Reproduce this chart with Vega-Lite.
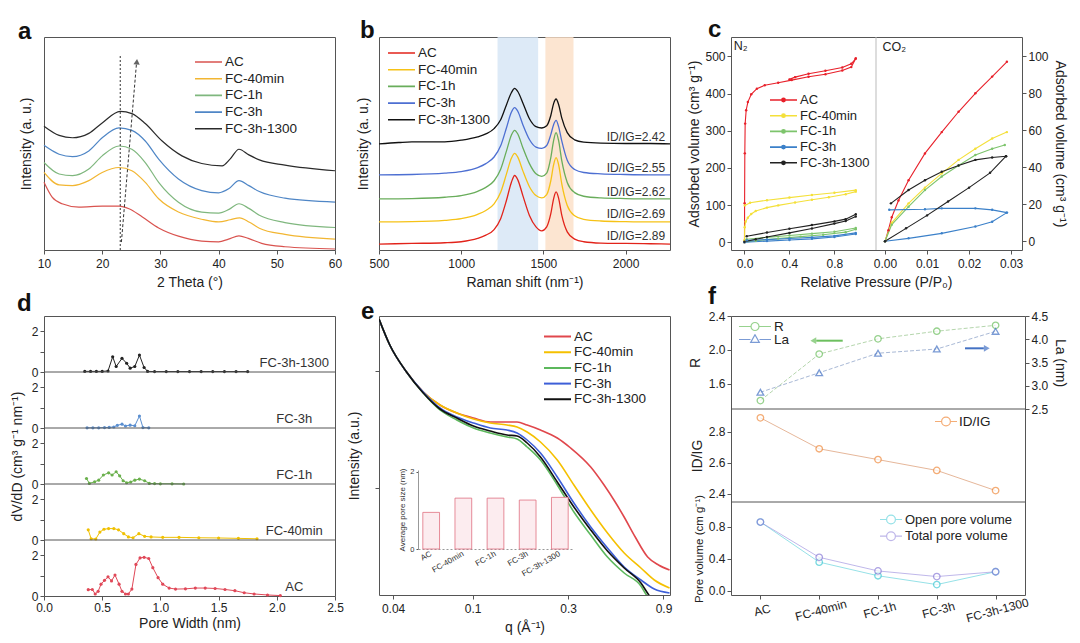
{
  "$schema": "https://vega.github.io/schema/vega-lite/v6.json",
  "padding": {"left": 9, "top": 17, "right": 0, "bottom": 0},
  "background": "white",
  "config": {
    "font": "Liberation Sans",
    "view": {"stroke": "#555", "strokeWidth": 1},
    "axis": {"grid": false, "domain": false, "tickColor": "#555", "tickSize": 4, "labelFontSize": 12, "labelColor": "#222", "labelFlush": false, "labelOverlap": false, "labelPadding": 2, "titleFontSize": 14, "titleFontWeight": "normal", "titleColor": "#222", "titlePadding": 4},
    "axisX": {"labelPadding": 4, "titlePadding": 6},
    "legend": {"labelFontSize": 13.5, "labelColor": "#222", "padding": 0, "rowPadding": 2.7, "clipHeight": 12, "labelOffset": 2, "symbolStrokeWidth": 1.6, "orient": "none"},
    "title": {"fontSize": 24, "fontWeight": "bold", "anchor": "start", "frame": "group", "offset": 2, "color": "#111"}
  },
  "datasets": {
    "xrd": [
      {"s":"AC","t":10,"v":68.3},{"s":"AC","t":11.4,"v":53.3},{"s":"AC","t":13.1,"v":46.7},{"s":"AC","t":16,"v":43.3},{"s":"AC","t":20,"v":44.3},{"s":"AC","t":22.9,"v":44.3},{"s":"AC","t":24.6,"v":41.7},{"s":"AC","t":26.9,"v":33.3},{"s":"AC","t":29.7,"v":22.3},{"s":"AC","t":33.1,"v":14},{"s":"AC","t":37.1,"v":9},{"s":"AC","t":40,"v":8.3},{"s":"AC","t":41.7,"v":11},{"s":"AC","t":43.5,"v":14.3},{"s":"AC","t":45.1,"v":11.7},{"s":"AC","t":47.4,"v":6.7},{"s":"AC","t":51.4,"v":3.3},{"s":"AC","t":60,"v":1},
      {"s":"FC-40min","t":10,"v":78.3},{"s":"FC-40min","t":12.6,"v":65.7},{"s":"FC-40min","t":14.9,"v":65},{"s":"FC-40min","t":17.7,"v":70},{"s":"FC-40min","t":20,"v":78.3},{"s":"FC-40min","t":22.9,"v":83.3},{"s":"FC-40min","t":25.1,"v":80},{"s":"FC-40min","t":27.4,"v":68.3},{"s":"FC-40min","t":29.7,"v":51.7},{"s":"FC-40min","t":33.1,"v":38.3},{"s":"FC-40min","t":37.1,"v":31},{"s":"FC-40min","t":40,"v":28.3},{"s":"FC-40min","t":42,"v":30.5},{"s":"FC-40min","t":43.6,"v":32.5},{"s":"FC-40min","t":45.3,"v":28},{"s":"FC-40min","t":47,"v":22},{"s":"FC-40min","t":51.4,"v":15.7},{"s":"FC-40min","t":60,"v":11},
      {"s":"FC-1h","t":10,"v":88.3},{"s":"FC-1h","t":12.6,"v":76.7},{"s":"FC-1h","t":14.9,"v":75},{"s":"FC-1h","t":17.7,"v":81.7},{"s":"FC-1h","t":20,"v":95},{"s":"FC-1h","t":22.9,"v":105},{"s":"FC-1h","t":25.1,"v":101.7},{"s":"FC-1h","t":27.4,"v":88.3},{"s":"FC-1h","t":29.7,"v":68.3},{"s":"FC-1h","t":33.1,"v":48.3},{"s":"FC-1h","t":37.1,"v":38.3},{"s":"FC-1h","t":40,"v":37.3},{"s":"FC-1h","t":41.8,"v":41},{"s":"FC-1h","t":43.5,"v":46.7},{"s":"FC-1h","t":45.2,"v":42},{"s":"FC-1h","t":47,"v":35},{"s":"FC-1h","t":51.4,"v":27.7},{"s":"FC-1h","t":60,"v":22.7},
      {"s":"FC-3h","t":10,"v":105.7},{"s":"FC-3h","t":12.6,"v":96.7},{"s":"FC-3h","t":14.9,"v":94.3},{"s":"FC-3h","t":17.7,"v":100},{"s":"FC-3h","t":20,"v":113.3},{"s":"FC-3h","t":22.9,"v":123.3},{"s":"FC-3h","t":25.1,"v":120.7},{"s":"FC-3h","t":27.4,"v":110},{"s":"FC-3h","t":29.7,"v":91.7},{"s":"FC-3h","t":33.1,"v":71.7},{"s":"FC-3h","t":37.1,"v":60},{"s":"FC-3h","t":40,"v":57.7},{"s":"FC-3h","t":41.8,"v":62},{"s":"FC-3h","t":43.5,"v":70},{"s":"FC-3h","t":45.2,"v":65},{"s":"FC-3h","t":47,"v":59},{"s":"FC-3h","t":51.4,"v":52.3},{"s":"FC-3h","t":60,"v":48.3},
      {"s":"FC-3h-1300","t":10,"v":125},{"s":"FC-3h-1300","t":12.6,"v":115.7},{"s":"FC-3h-1300","t":14.9,"v":113.3},{"s":"FC-3h-1300","t":17.7,"v":117.7},{"s":"FC-3h-1300","t":20,"v":128.3},{"s":"FC-3h-1300","t":23.1,"v":140},{"s":"FC-3h-1300","t":25.1,"v":137.7},{"s":"FC-3h-1300","t":27.4,"v":127.7},{"s":"FC-3h-1300","t":30.3,"v":110},{"s":"FC-3h-1300","t":33.7,"v":95},{"s":"FC-3h-1300","t":37.1,"v":87.3},{"s":"FC-3h-1300","t":40.6,"v":85},{"s":"FC-3h-1300","t":42,"v":92},{"s":"FC-3h-1300","t":43.5,"v":101.7},{"s":"FC-3h-1300","t":45.2,"v":96},{"s":"FC-3h-1300","t":47,"v":91},{"s":"FC-3h-1300","t":51.4,"v":85.7},{"s":"FC-3h-1300","t":60,"v":80}
    ],
    "raman": [
      {"s":"AC","x":500,"y":18},{"s":"AC","x":700,"y":20},{"s":"AC","x":900,"y":22},{"s":"AC","x":1000,"y":25},{"s":"AC","x":1100,"y":35},{"s":"AC","x":1150,"y":45},{"s":"AC","x":1200,"y":62},{"s":"AC","x":1240,"y":95},{"s":"AC","x":1275,"y":150},{"s":"AC","x":1305,"y":205},{"s":"AC","x":1325,"y":226},{"s":"AC","x":1345,"y":212},{"s":"AC","x":1375,"y":165},{"s":"AC","x":1415,"y":105},{"s":"AC","x":1455,"y":70},{"s":"AC","x":1490,"y":58},{"s":"AC","x":1520,"y":70},{"s":"AC","x":1545,"y":110},{"s":"AC","x":1562,"y":155},{"s":"AC","x":1577,"y":176},{"s":"AC","x":1592,"y":158},{"s":"AC","x":1612,"y":105},{"s":"AC","x":1645,"y":55},{"s":"AC","x":1690,"y":33},{"s":"AC","x":1745,"y":25},{"s":"AC","x":1850,"y":21},{"s":"AC","x":2000,"y":20},{"s":"AC","x":2150,"y":19},{"s":"AC","x":2270,"y":18},
      {"s":"FC-40min","x":500,"y":85},{"s":"FC-40min","x":700,"y":86},{"s":"FC-40min","x":900,"y":90},{"s":"FC-40min","x":1000,"y":95},{"s":"FC-40min","x":1100,"y":108},{"s":"FC-40min","x":1150,"y":120},{"s":"FC-40min","x":1200,"y":140},{"s":"FC-40min","x":1240,"y":175},{"s":"FC-40min","x":1275,"y":230},{"s":"FC-40min","x":1305,"y":278},{"s":"FC-40min","x":1325,"y":293},{"s":"FC-40min","x":1345,"y":281},{"s":"FC-40min","x":1375,"y":240},{"s":"FC-40min","x":1415,"y":192},{"s":"FC-40min","x":1455,"y":165},{"s":"FC-40min","x":1490,"y":158},{"s":"FC-40min","x":1520,"y":168},{"s":"FC-40min","x":1545,"y":210},{"s":"FC-40min","x":1562,"y":258},{"s":"FC-40min","x":1577,"y":280},{"s":"FC-40min","x":1592,"y":260},{"s":"FC-40min","x":1612,"y":200},{"s":"FC-40min","x":1645,"y":135},{"s":"FC-40min","x":1690,"y":104},{"s":"FC-40min","x":1745,"y":93},{"s":"FC-40min","x":1850,"y":88},{"s":"FC-40min","x":2000,"y":86},{"s":"FC-40min","x":2150,"y":85},{"s":"FC-40min","x":2270,"y":85},
      {"s":"FC-1h","x":500,"y":155},{"s":"FC-1h","x":700,"y":156},{"s":"FC-1h","x":900,"y":160},{"s":"FC-1h","x":1000,"y":165},{"s":"FC-1h","x":1100,"y":178},{"s":"FC-1h","x":1150,"y":190},{"s":"FC-1h","x":1200,"y":210},{"s":"FC-1h","x":1240,"y":245},{"s":"FC-1h","x":1275,"y":300},{"s":"FC-1h","x":1305,"y":348},{"s":"FC-1h","x":1325,"y":363},{"s":"FC-1h","x":1345,"y":351},{"s":"FC-1h","x":1375,"y":310},{"s":"FC-1h","x":1415,"y":262},{"s":"FC-1h","x":1455,"y":231},{"s":"FC-1h","x":1490,"y":223},{"s":"FC-1h","x":1520,"y":233},{"s":"FC-1h","x":1545,"y":280},{"s":"FC-1h","x":1562,"y":332},{"s":"FC-1h","x":1577,"y":356},{"s":"FC-1h","x":1592,"y":333},{"s":"FC-1h","x":1612,"y":270},{"s":"FC-1h","x":1645,"y":205},{"s":"FC-1h","x":1690,"y":174},{"s":"FC-1h","x":1745,"y":163},{"s":"FC-1h","x":1850,"y":158},{"s":"FC-1h","x":2000,"y":156},{"s":"FC-1h","x":2150,"y":155},{"s":"FC-1h","x":2270,"y":155},
      {"s":"FC-3h","x":500,"y":228},{"s":"FC-3h","x":700,"y":229},{"s":"FC-3h","x":900,"y":233},{"s":"FC-3h","x":1000,"y":238},{"s":"FC-3h","x":1100,"y":250},{"s":"FC-3h","x":1150,"y":262},{"s":"FC-3h","x":1200,"y":282},{"s":"FC-3h","x":1240,"y":316},{"s":"FC-3h","x":1275,"y":370},{"s":"FC-3h","x":1305,"y":418},{"s":"FC-3h","x":1325,"y":432},{"s":"FC-3h","x":1345,"y":420},{"s":"FC-3h","x":1375,"y":380},{"s":"FC-3h","x":1415,"y":335},{"s":"FC-3h","x":1455,"y":312},{"s":"FC-3h","x":1490,"y":308},{"s":"FC-3h","x":1520,"y":317},{"s":"FC-3h","x":1545,"y":350},{"s":"FC-3h","x":1562,"y":380},{"s":"FC-3h","x":1577,"y":393},{"s":"FC-3h","x":1592,"y":375},{"s":"FC-3h","x":1612,"y":330},{"s":"FC-3h","x":1645,"y":272},{"s":"FC-3h","x":1690,"y":244},{"s":"FC-3h","x":1745,"y":235},{"s":"FC-3h","x":1850,"y":231},{"s":"FC-3h","x":2000,"y":229},{"s":"FC-3h","x":2150,"y":228},{"s":"FC-3h","x":2270,"y":228},
      {"s":"FC-3h-1300","x":500,"y":322},{"s":"FC-3h-1300","x":620,"y":326},{"s":"FC-3h-1300","x":700,"y":328},{"s":"FC-3h-1300","x":900,"y":328},{"s":"FC-3h-1300","x":1000,"y":333},{"s":"FC-3h-1300","x":1100,"y":343},{"s":"FC-3h-1300","x":1150,"y":352},{"s":"FC-3h-1300","x":1200,"y":368},{"s":"FC-3h-1300","x":1240,"y":395},{"s":"FC-3h-1300","x":1275,"y":440},{"s":"FC-3h-1300","x":1305,"y":477},{"s":"FC-3h-1300","x":1325,"y":490},{"s":"FC-3h-1300","x":1345,"y":480},{"s":"FC-3h-1300","x":1375,"y":446},{"s":"FC-3h-1300","x":1415,"y":398},{"s":"FC-3h-1300","x":1455,"y":374},{"s":"FC-3h-1300","x":1490,"y":370},{"s":"FC-3h-1300","x":1520,"y":377},{"s":"FC-3h-1300","x":1545,"y":408},{"s":"FC-3h-1300","x":1562,"y":444},{"s":"FC-3h-1300","x":1577,"y":458},{"s":"FC-3h-1300","x":1592,"y":442},{"s":"FC-3h-1300","x":1612,"y":400},{"s":"FC-3h-1300","x":1645,"y":356},{"s":"FC-3h-1300","x":1690,"y":334},{"s":"FC-3h-1300","x":1745,"y":327},{"s":"FC-3h-1300","x":1850,"y":324},{"s":"FC-3h-1300","x":2000,"y":323},{"s":"FC-3h-1300","x":2150,"y":323},{"s":"FC-3h-1300","x":2270,"y":322}
    ],
    "n2": [
      {"s":"AC","b":"a","x":0,"y":0},{"s":"AC","b":"a","x":0.001,"y":105},{"s":"AC","b":"a","x":0.003,"y":239},{"s":"AC","b":"a","x":0.006,"y":319},{"s":"AC","b":"a","x":0.015,"y":355},{"s":"AC","b":"a","x":0.03,"y":377},{"s":"AC","b":"a","x":0.06,"y":398},{"s":"AC","b":"a","x":0.11,"y":413},{"s":"AC","b":"a","x":0.18,"y":422},{"s":"AC","b":"a","x":0.3,"y":429},{"s":"AC","b":"a","x":0.42,"y":436},{"s":"AC","b":"a","x":0.57,"y":445},{"s":"AC","b":"a","x":0.72,"y":452},{"s":"AC","b":"a","x":0.87,"y":462},{"s":"AC","b":"a","x":0.95,"y":471},{"s":"AC","b":"a","x":0.99,"y":494},
      {"s":"AC","b":"d","x":0.99,"y":494},{"s":"AC","b":"d","x":0.95,"y":480},{"s":"AC","b":"d","x":0.87,"y":470},{"s":"AC","b":"d","x":0.72,"y":461},{"s":"AC","b":"d","x":0.57,"y":453},{"s":"AC","b":"d","x":0.45,"y":444},{"s":"AC","b":"d","x":0.4,"y":438},
      {"s":"FC-40min","b":"a","x":0,"y":5},{"s":"FC-40min","b":"a","x":0.002,"y":40},{"s":"FC-40min","b":"a","x":0.01,"y":55},{"s":"FC-40min","b":"a","x":0.03,"y":66},{"s":"FC-40min","b":"a","x":0.06,"y":76},{"s":"FC-40min","b":"a","x":0.1,"y":84},{"s":"FC-40min","b":"a","x":0.2,"y":93},{"s":"FC-40min","b":"a","x":0.3,"y":99},{"s":"FC-40min","b":"a","x":0.45,"y":107},{"s":"FC-40min","b":"a","x":0.6,"y":114},{"s":"FC-40min","b":"a","x":0.75,"y":121},{"s":"FC-40min","b":"a","x":0.9,"y":129},{"s":"FC-40min","b":"a","x":0.99,"y":136},
      {"s":"FC-40min","b":"d","x":0.99,"y":140},{"s":"FC-40min","b":"d","x":0.8,"y":133},{"s":"FC-40min","b":"d","x":0.6,"y":127},{"s":"FC-40min","b":"d","x":0.4,"y":120},{"s":"FC-40min","b":"d","x":0.2,"y":113},{"s":"FC-40min","b":"d","x":0.05,"y":106},{"s":"FC-40min","b":"d","x":0.003,"y":99},
      {"s":"FC-1h","b":"a","x":0,"y":0},{"s":"FC-1h","b":"a","x":0.1,"y":4},{"s":"FC-1h","b":"a","x":0.3,"y":10},{"s":"FC-1h","b":"a","x":0.5,"y":15},{"s":"FC-1h","b":"a","x":0.7,"y":20},{"s":"FC-1h","b":"a","x":0.9,"y":27},{"s":"FC-1h","b":"a","x":0.99,"y":35},
      {"s":"FC-1h","b":"d","x":0.99,"y":38},{"s":"FC-1h","b":"d","x":0.8,"y":28},{"s":"FC-1h","b":"d","x":0.6,"y":23},{"s":"FC-1h","b":"d","x":0.4,"y":18},{"s":"FC-1h","b":"d","x":0.2,"y":13},{"s":"FC-1h","b":"d","x":0.02,"y":8},
      {"s":"FC-3h","b":"a","x":0,"y":0},{"s":"FC-3h","b":"a","x":0.2,"y":3},{"s":"FC-3h","b":"a","x":0.4,"y":6},{"s":"FC-3h","b":"a","x":0.6,"y":9},{"s":"FC-3h","b":"a","x":0.8,"y":14},{"s":"FC-3h","b":"a","x":0.99,"y":22},
      {"s":"FC-3h","b":"d","x":0.99,"y":25},{"s":"FC-3h","b":"d","x":0.8,"y":17},{"s":"FC-3h","b":"d","x":0.6,"y":13},{"s":"FC-3h","b":"d","x":0.4,"y":10},{"s":"FC-3h","b":"d","x":0.2,"y":7},{"s":"FC-3h","b":"d","x":0.02,"y":5},
      {"s":"FC-3h-1300","b":"a","x":0,"y":1},{"s":"FC-3h-1300","b":"a","x":0.1,"y":8},{"s":"FC-3h-1300","b":"a","x":0.2,"y":14},{"s":"FC-3h-1300","b":"a","x":0.4,"y":25},{"s":"FC-3h-1300","b":"a","x":0.6,"y":37},{"s":"FC-3h-1300","b":"a","x":0.8,"y":50},{"s":"FC-3h-1300","b":"a","x":0.9,"y":57},{"s":"FC-3h-1300","b":"a","x":0.99,"y":69},
      {"s":"FC-3h-1300","b":"d","x":0.99,"y":75},{"s":"FC-3h-1300","b":"d","x":0.9,"y":62},{"s":"FC-3h-1300","b":"d","x":0.8,"y":56},{"s":"FC-3h-1300","b":"d","x":0.6,"y":46},{"s":"FC-3h-1300","b":"d","x":0.4,"y":36},{"s":"FC-3h-1300","b":"d","x":0.2,"y":26},{"s":"FC-3h-1300","b":"d","x":0.02,"y":16}
    ],
    "co2": [
      {"s":"AC","b":"a","x":0,"y":0},{"s":"AC","b":"a","x":0.0008,"y":6},{"s":"AC","b":"a","x":0.0016,"y":13},{"s":"AC","b":"a","x":0.0032,"y":22},{"s":"AC","b":"a","x":0.0056,"y":33},{"s":"AC","b":"a","x":0.0095,"y":47.5},{"s":"AC","b":"a","x":0.0135,"y":59},{"s":"AC","b":"a","x":0.0175,"y":70},{"s":"AC","b":"a","x":0.0215,"y":80},{"s":"AC","b":"a","x":0.0255,"y":89},{"s":"AC","b":"a","x":0.029,"y":97},
      {"s":"FC-40min","b":"a","x":0,"y":0},{"s":"FC-40min","b":"a","x":0.0016,"y":10},{"s":"FC-40min","b":"a","x":0.0056,"y":20.5},{"s":"FC-40min","b":"a","x":0.0095,"y":29},{"s":"FC-40min","b":"a","x":0.0135,"y":36.7},{"s":"FC-40min","b":"a","x":0.0175,"y":44},{"s":"FC-40min","b":"a","x":0.0215,"y":50},{"s":"FC-40min","b":"a","x":0.0255,"y":55.6},{"s":"FC-40min","b":"a","x":0.029,"y":59},
      {"s":"FC-1h","b":"a","x":0,"y":0},{"s":"FC-1h","b":"a","x":0.0016,"y":9},{"s":"FC-1h","b":"a","x":0.0056,"y":18.7},{"s":"FC-1h","b":"a","x":0.0095,"y":27.7},{"s":"FC-1h","b":"a","x":0.0135,"y":35},{"s":"FC-1h","b":"a","x":0.0175,"y":41},{"s":"FC-1h","b":"a","x":0.0215,"y":46.6},{"s":"FC-1h","b":"a","x":0.0255,"y":50},{"s":"FC-1h","b":"a","x":0.0285,"y":52},
      {"s":"FC-3h","b":"a","x":0,"y":0},{"s":"FC-3h","b":"a","x":0.0056,"y":1.6},{"s":"FC-3h","b":"a","x":0.0135,"y":4.3},{"s":"FC-3h","b":"a","x":0.0215,"y":8},{"s":"FC-3h","b":"a","x":0.0255,"y":10.6},{"s":"FC-3h","b":"a","x":0.029,"y":15.5},
      {"s":"FC-3h","b":"d","x":0.001,"y":17},{"s":"FC-3h","b":"d","x":0.0095,"y":17.3},{"s":"FC-3h","b":"d","x":0.0135,"y":17.8},{"s":"FC-3h","b":"d","x":0.0215,"y":17.8},{"s":"FC-3h","b":"d","x":0.0255,"y":17},{"s":"FC-3h","b":"d","x":0.029,"y":15.5},
      {"s":"FC-3h-1300","b":"a","x":0,"y":0},{"s":"FC-3h-1300","b":"a","x":0.005,"y":7},{"s":"FC-3h-1300","b":"a","x":0.01,"y":14},{"s":"FC-3h-1300","b":"a","x":0.015,"y":21.5},{"s":"FC-3h-1300","b":"a","x":0.02,"y":29},{"s":"FC-3h-1300","b":"a","x":0.025,"y":37},{"s":"FC-3h-1300","b":"a","x":0.0288,"y":46},
      {"s":"FC-3h-1300","b":"d","x":0.0014,"y":20.5},{"s":"FC-3h-1300","b":"d","x":0.0056,"y":27.7},{"s":"FC-3h-1300","b":"d","x":0.0095,"y":33},{"s":"FC-3h-1300","b":"d","x":0.0135,"y":37.6},{"s":"FC-3h-1300","b":"d","x":0.0175,"y":41},{"s":"FC-3h-1300","b":"d","x":0.0215,"y":44},{"s":"FC-3h-1300","b":"d","x":0.0255,"y":45.3},{"s":"FC-3h-1300","b":"d","x":0.0288,"y":46}
    ],
    "psd": [
      {"s":"FC-3h-1300","w":0.35,"v":0.03},{"s":"FC-3h-1300","w":0.4,"v":0.03},{"s":"FC-3h-1300","w":0.45,"v":0.03},{"s":"FC-3h-1300","w":0.5,"v":0.03},{"s":"FC-3h-1300","w":0.55,"v":0.05},{"s":"FC-3h-1300","w":0.59,"v":0.75},{"s":"FC-3h-1300","w":0.62,"v":0.27},{"s":"FC-3h-1300","w":0.67,"v":0.67},{"s":"FC-3h-1300","w":0.71,"v":0.43},{"s":"FC-3h-1300","w":0.74,"v":0.19},{"s":"FC-3h-1300","w":0.78,"v":0.27},{"s":"FC-3h-1300","w":0.82,"v":0.83},{"s":"FC-3h-1300","w":0.86,"v":0.22},{"s":"FC-3h-1300","w":0.89,"v":0.03},{"s":"FC-3h-1300","w":0.95,"v":0.02},{"s":"FC-3h-1300","w":1.05,"v":0.02},{"s":"FC-3h-1300","w":1.15,"v":0.02},{"s":"FC-3h-1300","w":1.25,"v":0.02},{"s":"FC-3h-1300","w":1.35,"v":0.02},{"s":"FC-3h-1300","w":1.45,"v":0.02},{"s":"FC-3h-1300","w":1.55,"v":0.02},{"s":"FC-3h-1300","w":1.65,"v":0.02},{"s":"FC-3h-1300","w":1.75,"v":0.02},
      {"s":"FC-3h","w":0.37,"v":0.01},{"s":"FC-3h","w":0.42,"v":0.01},{"s":"FC-3h","w":0.47,"v":0.01},{"s":"FC-3h","w":0.52,"v":0.02},{"s":"FC-3h","w":0.56,"v":0.03},{"s":"FC-3h","w":0.6,"v":0.05},{"s":"FC-3h","w":0.63,"v":0.13},{"s":"FC-3h","w":0.67,"v":0.19},{"s":"FC-3h","w":0.7,"v":0.1},{"s":"FC-3h","w":0.74,"v":0.14},{"s":"FC-3h","w":0.78,"v":0.11},{"s":"FC-3h","w":0.82,"v":0.59},{"s":"FC-3h","w":0.85,"v":0.02},{"s":"FC-3h","w":0.9,"v":0.01},
      {"s":"FC-1h","w":0.365,"v":0.27},{"s":"FC-1h","w":0.39,"v":0.03},{"s":"FC-1h","w":0.435,"v":0.11},{"s":"FC-1h","w":0.47,"v":0.19},{"s":"FC-1h","w":0.51,"v":0.44},{"s":"FC-1h","w":0.555,"v":0.55},{"s":"FC-1h","w":0.585,"v":0.44},{"s":"FC-1h","w":0.62,"v":0.6},{"s":"FC-1h","w":0.65,"v":0.4},{"s":"FC-1h","w":0.68,"v":0.16},{"s":"FC-1h","w":0.71,"v":0.06},{"s":"FC-1h","w":0.745,"v":0.1},{"s":"FC-1h","w":0.78,"v":0.19},{"s":"FC-1h","w":0.82,"v":0.24},{"s":"FC-1h","w":0.865,"v":0.16},{"s":"FC-1h","w":0.905,"v":0.03},{"s":"FC-1h","w":0.95,"v":0.02},{"s":"FC-1h","w":1.0,"v":0.01},{"s":"FC-1h","w":1.1,"v":0.01},{"s":"FC-1h","w":1.2,"v":0.0},
      {"s":"FC-40min","w":0.38,"v":0.5},{"s":"FC-40min","w":0.405,"v":0.06},{"s":"FC-40min","w":0.445,"v":0.05},{"s":"FC-40min","w":0.48,"v":0.39},{"s":"FC-40min","w":0.515,"v":0.53},{"s":"FC-40min","w":0.555,"v":0.56},{"s":"FC-40min","w":0.6,"v":0.56},{"s":"FC-40min","w":0.64,"v":0.5},{"s":"FC-40min","w":0.685,"v":0.31},{"s":"FC-40min","w":0.725,"v":0.15},{"s":"FC-40min","w":0.765,"v":0.11},{"s":"FC-40min","w":0.815,"v":0.31},{"s":"FC-40min","w":0.865,"v":0.18},{"s":"FC-40min","w":0.92,"v":0.15},{"s":"FC-40min","w":1.02,"v":0.13},{"s":"FC-40min","w":1.16,"v":0.13},{"s":"FC-40min","w":1.33,"v":0.11},{"s":"FC-40min","w":1.5,"v":0.1},{"s":"FC-40min","w":1.67,"v":0.08},{"s":"FC-40min","w":1.83,"v":0.06},
      {"s":"AC","w":0.38,"v":0.31},{"s":"AC","w":0.415,"v":0.32},{"s":"AC","w":0.44,"v":0.1},{"s":"AC","w":0.465,"v":0.23},{"s":"AC","w":0.49,"v":0.58},{"s":"AC","w":0.52,"v":0.77},{"s":"AC","w":0.55,"v":0.94},{"s":"AC","w":0.58,"v":0.74},{"s":"AC","w":0.61,"v":1.03},{"s":"AC","w":0.645,"v":0.58},{"s":"AC","w":0.67,"v":0.23},{"s":"AC","w":0.7,"v":0.1},{"s":"AC","w":0.725,"v":0.1},{"s":"AC","w":0.755,"v":0.34},{"s":"AC","w":0.79,"v":1.55},{"s":"AC","w":0.825,"v":1.87},{"s":"AC","w":0.86,"v":1.9},{"s":"AC","w":0.9,"v":1.84},{"s":"AC","w":0.935,"v":1.39},{"s":"AC","w":0.98,"v":0.9},{"s":"AC","w":1.02,"v":0.58},{"s":"AC","w":1.075,"v":0.39},{"s":"AC","w":1.13,"v":0.34},{"s":"AC","w":1.215,"v":0.35},{"s":"AC","w":1.3,"v":0.39},{"s":"AC","w":1.385,"v":0.39},{"s":"AC","w":1.47,"v":0.37},{"s":"AC","w":1.555,"v":0.32},{"s":"AC","w":1.64,"v":0.26},{"s":"AC","w":1.72,"v":0.16},{"s":"AC","w":1.805,"v":0.1},{"s":"AC","w":1.92,"v":0.05},{"s":"AC","w":2.03,"v":0.02}
    ],
    "saxs": [
      {"s":"AC","q":0.034,"h":276},{"s":"AC","q":0.0385,"h":250},{"s":"AC","q":0.0467,"h":223},{"s":"AC","q":0.0566,"h":203},{"s":"AC","q":0.0686,"h":190},{"s":"AC","q":0.0833,"h":182},{"s":"AC","q":0.1009,"h":177},{"s":"AC","q":0.1224,"h":173},{"s":"AC","q":0.1485,"h":173},{"s":"AC","q":0.1667,"h":173},{"s":"AC","q":0.1872,"h":170},{"s":"AC","q":0.2183,"h":165},{"s":"AC","q":0.2649,"h":157},{"s":"AC","q":0.309,"h":147},{"s":"AC","q":0.3893,"h":128},{"s":"AC","q":0.454,"h":110},{"s":"AC","q":0.516,"h":93},{"s":"AC","q":0.572,"h":78},{"s":"AC","q":0.65,"h":58},{"s":"AC","q":0.75,"h":38},{"s":"AC","q":0.85,"h":30},{"s":"AC","q":0.965,"h":25},
      {"s":"FC-40min","q":0.034,"h":276},{"s":"FC-40min","q":0.0385,"h":250},{"s":"FC-40min","q":0.0467,"h":223},{"s":"FC-40min","q":0.0566,"h":203},{"s":"FC-40min","q":0.0686,"h":190},{"s":"FC-40min","q":0.0833,"h":182},{"s":"FC-40min","q":0.1009,"h":176},{"s":"FC-40min","q":0.1224,"h":172},{"s":"FC-40min","q":0.1485,"h":170},{"s":"FC-40min","q":0.1667,"h":168},{"s":"FC-40min","q":0.1872,"h":163},{"s":"FC-40min","q":0.2183,"h":153},{"s":"FC-40min","q":0.2649,"h":135},{"s":"FC-40min","q":0.3208,"h":110},{"s":"FC-40min","q":0.3893,"h":85},{"s":"FC-40min","q":0.4722,"h":62},{"s":"FC-40min","q":0.5724,"h":42},{"s":"FC-40min","q":0.6941,"h":27},{"s":"FC-40min","q":0.8097,"h":15},{"s":"FC-40min","q":0.965,"h":7},
      {"s":"FC-1h","q":0.034,"h":276},{"s":"FC-1h","q":0.0385,"h":250},{"s":"FC-1h","q":0.0467,"h":223},{"s":"FC-1h","q":0.0566,"h":202},{"s":"FC-1h","q":0.0686,"h":185},{"s":"FC-1h","q":0.0833,"h":175},{"s":"FC-1h","q":0.1009,"h":167},{"s":"FC-1h","q":0.1224,"h":162},{"s":"FC-1h","q":0.1485,"h":158},{"s":"FC-1h","q":0.1667,"h":156},{"s":"FC-1h","q":0.1872,"h":148},{"s":"FC-1h","q":0.2183,"h":135},{"s":"FC-1h","q":0.2649,"h":110},{"s":"FC-1h","q":0.3208,"h":83},{"s":"FC-1h","q":0.3893,"h":60},{"s":"FC-1h","q":0.4722,"h":38},{"s":"FC-1h","q":0.5724,"h":22},{"s":"FC-1h","q":0.6941,"h":9},{"s":"FC-1h","q":0.74,"h":0},{"s":"FC-1h","q":0.8,"h":-8},
      {"s":"FC-3h","q":0.034,"h":276},{"s":"FC-3h","q":0.0385,"h":250},{"s":"FC-3h","q":0.0467,"h":223},{"s":"FC-3h","q":0.0566,"h":203},{"s":"FC-3h","q":0.0686,"h":187},{"s":"FC-3h","q":0.0833,"h":178},{"s":"FC-3h","q":0.1009,"h":172},{"s":"FC-3h","q":0.1224,"h":167},{"s":"FC-3h","q":0.1485,"h":165},{"s":"FC-3h","q":0.1667,"h":162},{"s":"FC-3h","q":0.1872,"h":155},{"s":"FC-3h","q":0.2183,"h":142},{"s":"FC-3h","q":0.2649,"h":118},{"s":"FC-3h","q":0.3208,"h":92},{"s":"FC-3h","q":0.3893,"h":68},{"s":"FC-3h","q":0.4722,"h":47},{"s":"FC-3h","q":0.5724,"h":28},{"s":"FC-3h","q":0.6941,"h":15},{"s":"FC-3h","q":0.8097,"h":6},{"s":"FC-3h","q":0.965,"h":2},
      {"s":"FC-3h-1300","q":0.034,"h":276},{"s":"FC-3h-1300","q":0.0385,"h":250},{"s":"FC-3h-1300","q":0.0467,"h":223},{"s":"FC-3h-1300","q":0.0566,"h":202},{"s":"FC-3h-1300","q":0.0686,"h":186},{"s":"FC-3h-1300","q":0.0833,"h":177},{"s":"FC-3h-1300","q":0.1009,"h":169},{"s":"FC-3h-1300","q":0.1224,"h":164},{"s":"FC-3h-1300","q":0.1485,"h":160},{"s":"FC-3h-1300","q":0.1667,"h":159},{"s":"FC-3h-1300","q":0.1872,"h":152},{"s":"FC-3h-1300","q":0.2183,"h":138},{"s":"FC-3h-1300","q":0.2649,"h":113},{"s":"FC-3h-1300","q":0.3208,"h":88},{"s":"FC-3h-1300","q":0.3893,"h":65},{"s":"FC-3h-1300","q":0.4722,"h":44},{"s":"FC-3h-1300","q":0.5724,"h":27},{"s":"FC-3h-1300","q":0.6941,"h":12},{"s":"FC-3h-1300","q":0.76,"h":0},{"s":"FC-3h-1300","q":0.8,"h":-6}
    ],
    "inset": [
      {"s":"AC","size":0.95},{"s":"FC-40min","size":1.32},{"s":"FC-1h","size":1.32},{"s":"FC-3h","size":1.27},{"s":"FC-3h-1300","size":1.34}
    ],
    "props": [
      {"i":0,"s":"AC","k":"R","v":1.4},{"i":1,"s":"FC-40min","k":"R","v":1.95},{"i":2,"s":"FC-1h","k":"R","v":2.13},{"i":3,"s":"FC-3h","k":"R","v":2.22},{"i":4,"s":"FC-3h-1300","k":"R","v":2.29},
      {"i":0,"s":"AC","k":"La","v":2.86},{"i":1,"s":"FC-40min","k":"La","v":3.28},{"i":2,"s":"FC-1h","k":"La","v":3.7},{"i":3,"s":"FC-3h","k":"La","v":3.79},{"i":4,"s":"FC-3h-1300","k":"La","v":4.17},
      {"i":0,"s":"AC","k":"ID/IG","v":2.89},{"i":1,"s":"FC-40min","k":"ID/IG","v":2.69},{"i":2,"s":"FC-1h","k":"ID/IG","v":2.62},{"i":3,"s":"FC-3h","k":"ID/IG","v":2.55},{"i":4,"s":"FC-3h-1300","k":"ID/IG","v":2.42},
      {"i":0,"s":"AC","k":"Open pore volume","v":0.86},{"i":1,"s":"FC-40min","k":"Open pore volume","v":0.36},{"i":2,"s":"FC-1h","k":"Open pore volume","v":0.19},{"i":3,"s":"FC-3h","k":"Open pore volume","v":0.08},{"i":4,"s":"FC-3h-1300","k":"Open pore volume","v":0.24},
      {"i":0,"s":"AC","k":"Total pore volume","v":0.86},{"i":1,"s":"FC-40min","k":"Total pore volume","v":0.42},{"i":2,"s":"FC-1h","k":"Total pore volume","v":0.25},{"i":3,"s":"FC-3h","k":"Total pore volume","v":0.18},{"i":4,"s":"FC-3h-1300","k":"Total pore volume","v":0.24}
    ]
  },
  "columns": 5,
  "bounds": "flush",
  "align": "each",
  "spacing": {"row": 66, "column": 0},
  "resolve": {"scale": {"color": "independent", "fill": "independent", "stroke": "independent"}, "legend": {"color": "independent", "fill": "independent", "stroke": "independent"}},
  "concat": [
    {
      "width": 291, "height": 213,
      "title": {"text": "a", "dx": -26, "dy": 9},
      "layer": [
        {
          "data": {"name": "xrd"},
          "mark": {"type": "line", "strokeWidth": 1.2, "interpolate": "monotone"},
          "encoding": {
            "x": {"field": "t", "type": "quantitative", "scale": {"domain": [10, 60], "nice": false}, "axis": {"values": [10, 20, 30, 40, 50, 60], "title": "2 Theta (°)"}},
            "y": {"field": "v", "type": "quantitative", "scale": {"domain": [0, 215], "nice": false}, "axis": {"labels": false, "ticks": false, "title": "Intensity (a. u.)", "titlePadding": 11}},
            "color": {"field": "s", "type": "nominal", "sort": null, "scale": {"domain": ["AC", "FC-40min", "FC-1h", "FC-3h", "FC-3h-1300"], "range": ["#d9534f", "#f2b632", "#7fb77e", "#4f86c6", "#2b2b2b"]}, "legend": {"title": null, "legendX": 150, "legendY": 19, "symbolType": "stroke", "symbolSize": 729}}
          }
        },
        {
          "data": {"values": [{"t": 23.1, "v": 0, "v2": 197}]},
          "mark": {"type": "rule", "strokeDash": [2, 2], "color": "#333", "strokeWidth": 1},
          "encoding": {"x": {"field": "t", "type": "quantitative"}, "y": {"field": "v", "type": "quantitative"}, "y2": {"field": "v2"}}
        },
        {
          "data": {"values": [{"t": 23.3, "v": 8, "t2": 25.9, "v2": 189}]},
          "mark": {"type": "rule", "strokeDash": [3, 2], "color": "#333", "strokeWidth": 1},
          "encoding": {"x": {"field": "t", "type": "quantitative"}, "y": {"field": "v", "type": "quantitative"}, "x2": {"field": "t2"}, "y2": {"field": "v2"}}
        },
        {
          "data": {"values": [{"t": 25.95, "v": 190}]},
          "mark": {"type": "point", "shape": "triangle-up", "filled": true, "color": "#222", "size": 40, "angle": 5},
          "encoding": {"x": {"field": "t", "type": "quantitative"}, "y": {"field": "v", "type": "quantitative"}}
        }
      ]
    },
    {"width": 44, "height": 5, "data": {"values": []}, "mark": "text", "view": {"stroke": null}},
    {
      "width": 291, "height": 213,
      "title": {"text": "b", "dx": -19, "dy": 8},
      "layer": [
        {
          "data": {"values": [{"x": 1221, "x2": 1468, "band": "D"}, {"x": 1512, "x2": 1683, "band": "G"}]},
          "mark": {"type": "rect", "opacity": 0.8},
          "encoding": {
            "x": {"field": "x", "type": "quantitative", "scale": {"domain": [500, 2270], "nice": false}, "axis": {"values": [500, 1000, 1500, 2000], "format": "d", "title": "Raman shift (nm⁻¹)"}},
            "x2": {"field": "x2"},
            "fill": {"field": "band", "type": "nominal", "scale": {"domain": ["D", "G"], "range": ["#d5e5f5", "#fbdfc5"]}, "legend": null}
          }
        },
        {
          "data": {"name": "raman"},
          "mark": {"type": "line", "strokeWidth": 1.3, "interpolate": "monotone"},
          "encoding": {
            "x": {"field": "x", "type": "quantitative"},
            "y": {"field": "y", "type": "quantitative", "scale": {"domain": [0, 646], "nice": false}, "axis": {"labels": false, "ticks": false, "title": "Intensity (a. u.)", "titlePadding": 9}},
            "color": {"field": "s", "type": "nominal", "sort": null, "scale": {"domain": ["AC", "FC-40min", "FC-1h", "FC-3h", "FC-3h-1300"], "range": ["#e2231a", "#f6c216", "#69ad5b", "#4d6fd2", "#111111"]}, "legend": {"title": null, "legendX": 8, "legendY": 10, "symbolType": "stroke", "symbolSize": 729}}
          }
        },
        {
          "data": {"values": [{"x": 2240, "y": 343, "t": "ID/IG=2.42"}, {"x": 2240, "y": 250, "t": "ID/IG=2.55"}, {"x": 2240, "y": 176, "t": "ID/IG=2.62"}, {"x": 2240, "y": 108, "t": "ID/IG=2.69"}, {"x": 2240, "y": 43, "t": "ID/IG=2.89"}]},
          "mark": {"type": "text", "align": "right", "baseline": "middle", "fontSize": 12, "color": "#333"},
          "encoding": {"x": {"field": "x", "type": "quantitative"}, "y": {"field": "y", "type": "quantitative"}, "text": {"field": "t"}}
        }
      ]
    },
    {"width": 61, "height": 5, "data": {"values": []}, "mark": "text", "view": {"stroke": null}},
    {
      "width": 291, "height": 213,
      "title": {"text": "c", "dx": -23, "dy": 7},
      "layer": [
        {
          "layer": [
            {
              "data": {"name": "n2"},
              "mark": {"type": "line", "strokeWidth": 1.1, "point": {"filled": true, "size": 6}},
              "encoding": {
                "x": {"field": "x", "type": "quantitative", "scale": {"domain": [-0.12, 1.17], "range": [0, 145], "nice": false, "zero": false}, "axis": {"orient": "bottom", "values": [0, 0.4, 0.8], "format": ".1f", "title": "Relative Pressure (P/P₀)", "titleX": 145, "titleAlign": "center"}},
                "y": {"field": "y", "type": "quantitative", "scale": {"domain": [-21, 552], "nice": false, "zero": false}, "axis": {"orient": "left", "values": [0, 100, 200, 300, 400, 500], "title": "Adsorbed volume (cm³ g⁻¹)", "titlePadding": 3}},
                "color": {"field": "s", "type": "nominal", "sort": null, "scale": {"domain": ["AC", "FC-40min", "FC-1h", "FC-3h", "FC-3h-1300"], "range": ["#e8202a", "#f4e03a", "#7dc46c", "#3b80c9", "#222222"]}, "legend": {"title": null, "legendX": 38, "legendY": 57, "symbolType": "M-1,0H1M-0.12,0A0.12,0.12 0 1,0 0.12,0A0.12,0.12 0 1,0 -0.12,0", "symbolSize": 729, "labelFontSize": 13}},
                "detail": {"field": "b"}
              }
            },
            {
              "data": {"values": [{"x": -0.095, "y": 527, "t": "N₂"}]},
              "mark": {"type": "text", "align": "left", "baseline": "middle", "fontSize": 12.5, "color": "#222"},
              "encoding": {"x": {"field": "x", "type": "quantitative"}, "y": {"field": "y", "type": "quantitative"}, "text": {"field": "t"}}
            }
          ]
        },
        {
          "layer": [
            {
              "data": {"values": [{"x": -0.00215}]},
              "mark": {"type": "rule", "color": "#bbbbbb", "strokeWidth": 1},
              "encoding": {"x": {"field": "x", "type": "quantitative", "scale": {"domain": [-0.00215, 0.0326], "range": [145, 291], "nice": false, "zero": false}, "axis": {"orient": "bottom", "values": [0, 0.01, 0.02, 0.03], "format": ".2f", "title": null}}}
            },
            {
              "data": {"name": "co2"},
              "mark": {"type": "line", "strokeWidth": 1.1, "point": {"filled": true, "size": 6}},
              "encoding": {
                "x": {"field": "x", "type": "quantitative"},
                "y": {"field": "y", "type": "quantitative", "scale": {"domain": [-4.7, 110.4], "nice": false, "zero": false}, "axis": {"orient": "right", "values": [0, 20, 40, 60, 80, 100], "title": "Adsorbed volume (cm³ g⁻¹)", "titlePadding": 4}},
                "color": {"field": "s", "type": "nominal", "sort": null},
                "detail": {"field": "b"}
              }
            },
            {
              "data": {"values": [{"x": -0.0006, "y": 105, "t": "CO₂"}]},
              "mark": {"type": "text", "align": "left", "baseline": "middle", "fontSize": 12.5, "color": "#222"},
              "encoding": {"x": {"field": "x", "type": "quantitative"}, "y": {"field": "y", "type": "quantitative"}, "text": {"field": "t"}}
            }
          ]
        }
      ],
      "resolve": {"scale": {"x": "independent", "y": "independent"}, "axis": {"x": "independent", "y": "independent"}}
    },
    {
      "width": 291, "height": 280,
      "title": {"text": "d", "dx": -27, "dy": 2},
      "layer": [
        {"layer": [
          {"data": {"name": "psd"}, "transform": [{"filter": "datum.s == 'FC-3h-1300'"}], "mark": {"type": "line", "color": "#222", "strokeWidth": 1, "point": {"filled": true, "size": 10, "color": "#222"}}, "encoding": {"x": {"field": "w", "type": "quantitative", "scale": {"domain": [0, 2.5], "nice": false}}, "y": {"field": "v", "type": "quantitative", "scale": {"domain": [0, 2.75], "range": [56, 0], "nice": false}, "axis": {"orient": "left", "values": [0, 1, 2], "format": "d", "labelExpr": "datum.value == 1 ? '' : datum.label", "title": null}}}},
          {"data": {"values": [{"w": 2.15, "v": 0.45, "t": "FC-3h-1300"}]}, "mark": {"type": "text", "fontSize": 13, "color": "#333", "baseline": "middle"}, "encoding": {"x": {"field": "w", "type": "quantitative"}, "y": {"field": "v", "type": "quantitative"}, "text": {"field": "t"}}},
          {"data": {"values": [{"v": 0}]}, "mark": {"type": "rule", "color": "#555"}, "encoding": {"y": {"field": "v", "type": "quantitative"}}}
        ]},
        {"layer": [
          {"data": {"name": "psd"}, "transform": [{"filter": "datum.s == 'FC-3h'"}], "mark": {"type": "line", "color": "#5b8fd0", "strokeWidth": 1, "point": {"filled": true, "size": 10, "color": "#5b8fd0"}}, "encoding": {"x": {"field": "w", "type": "quantitative"}, "y": {"field": "v", "type": "quantitative", "scale": {"domain": [0, 2.75], "range": [112, 56], "nice": false}, "axis": {"orient": "left", "values": [0, 1, 2], "format": "d", "labelExpr": "datum.value == 1 ? '' : datum.label", "title": null}}}},
          {"data": {"values": [{"w": 2.15, "v": 0.45, "t": "FC-3h"}]}, "mark": {"type": "text", "fontSize": 13, "color": "#333", "baseline": "middle"}, "encoding": {"x": {"field": "w", "type": "quantitative"}, "y": {"field": "v", "type": "quantitative"}, "text": {"field": "t"}}},
          {"data": {"values": [{"v": 0}]}, "mark": {"type": "rule", "color": "#555"}, "encoding": {"y": {"field": "v", "type": "quantitative"}}}
        ]},
        {"layer": [
          {"data": {"name": "psd"}, "transform": [{"filter": "datum.s == 'FC-1h'"}], "mark": {"type": "line", "color": "#6ab04c", "strokeWidth": 1, "point": {"filled": true, "size": 10, "color": "#6ab04c"}}, "encoding": {"x": {"field": "w", "type": "quantitative"}, "y": {"field": "v", "type": "quantitative", "scale": {"domain": [0, 2.75], "range": [168, 112], "nice": false}, "axis": {"orient": "left", "values": [0, 1, 2], "format": "d", "labelExpr": "datum.value == 1 ? '' : datum.label", "title": "dV/dD (cm³ g⁻¹ nm⁻¹)", "titlePadding": 7}}}},
          {"data": {"values": [{"w": 2.15, "v": 0.45, "t": "FC-1h"}]}, "mark": {"type": "text", "fontSize": 13, "color": "#333", "baseline": "middle"}, "encoding": {"x": {"field": "w", "type": "quantitative"}, "y": {"field": "v", "type": "quantitative"}, "text": {"field": "t"}}},
          {"data": {"values": [{"v": 0}]}, "mark": {"type": "rule", "color": "#555"}, "encoding": {"y": {"field": "v", "type": "quantitative"}}}
        ]},
        {"layer": [
          {"data": {"name": "psd"}, "transform": [{"filter": "datum.s == 'FC-40min'"}], "mark": {"type": "line", "color": "#f0c000", "strokeWidth": 1, "point": {"filled": true, "size": 10, "color": "#f0c000"}}, "encoding": {"x": {"field": "w", "type": "quantitative"}, "y": {"field": "v", "type": "quantitative", "scale": {"domain": [0, 2.75], "range": [224, 168], "nice": false}, "axis": {"orient": "left", "values": [0, 1, 2], "format": "d", "labelExpr": "datum.value == 1 ? '' : datum.label", "title": null}}}},
          {"data": {"values": [{"w": 2.15, "v": 0.45, "t": "FC-40min"}]}, "mark": {"type": "text", "fontSize": 13, "color": "#333", "baseline": "middle"}, "encoding": {"x": {"field": "w", "type": "quantitative"}, "y": {"field": "v", "type": "quantitative"}, "text": {"field": "t"}}},
          {"data": {"values": [{"v": 0}]}, "mark": {"type": "rule", "color": "#555"}, "encoding": {"y": {"field": "v", "type": "quantitative"}}}
        ]},
        {"layer": [
          {"data": {"name": "psd"}, "transform": [{"filter": "datum.s == 'AC'"}], "mark": {"type": "line", "color": "#e04858", "strokeWidth": 1, "point": {"filled": true, "size": 10, "color": "#e04858"}}, "encoding": {"x": {"field": "w", "type": "quantitative", "axis": {"values": [0, 0.5, 1, 1.5, 2, 2.5], "format": ".1f", "title": "Pore Width (nm)", "labelPadding": 2, "titlePadding": 3}}, "y": {"field": "v", "type": "quantitative", "scale": {"domain": [0, 2.75], "range": [280, 224], "nice": false}, "axis": {"orient": "left", "values": [0, 1, 2], "format": "d", "labelExpr": "datum.value == 1 ? '' : datum.label", "title": null}}}},
          {"data": {"values": [{"w": 2.15, "v": 0.45, "t": "AC"}]}, "mark": {"type": "text", "fontSize": 13, "color": "#333", "baseline": "middle"}, "encoding": {"x": {"field": "w", "type": "quantitative"}, "y": {"field": "v", "type": "quantitative"}, "text": {"field": "t"}}}
        ]}
      ],
      "resolve": {"scale": {"y": "independent"}, "axis": {"y": "independent"}}
    },
    {"width": 44, "height": 5, "data": {"values": []}, "mark": "text", "view": {"stroke": null}},
    {
      "width": 291, "height": 279,
      "title": {"text": "e", "dx": -18, "dy": 10},
      "layer": [
        {
          "data": {"name": "saxs"},
          "mark": {"type": "line", "strokeWidth": 1.6, "clip": true, "interpolate": "monotone"},
          "encoding": {
            "x": {"field": "q", "type": "quantitative", "scale": {"type": "log", "domain": [0.034, 0.97], "nice": false}, "axis": {"values": [0.04, 0.1, 0.3, 0.9], "format": "~g", "title": "q (Å⁻¹)"}},
            "y": {"field": "h", "type": "quantitative", "scale": {"domain": [0, 279], "nice": false}, "axis": {"labels": false, "values": [107, 224], "title": "Intensity (a.u.)", "titlePadding": 13}},
            "color": {"field": "s", "type": "nominal", "sort": null, "scale": {"domain": ["AC", "FC-40min", "FC-1h", "FC-3h", "FC-3h-1300"], "range": ["#e0474c", "#f5c000", "#5cb85c", "#3d5fd8", "#111111"]}, "legend": {"title": null, "legendX": 164, "legendY": 15, "symbolType": "stroke", "symbolSize": 729, "symbolStrokeWidth": 2, "clipHeight": 11, "rowPadding": 1.7}}
          }
        },
        {
          "data": {"name": "inset"},
          "mark": {"type": "bar", "fill": "#fcecef", "stroke": "#e07080", "strokeWidth": 0.8},
          "encoding": {
            "x": {"field": "s", "type": "nominal", "sort": null, "scale": {"range": [39, 194], "paddingInner": 0.48, "paddingOuter": 0.15}, "axis": {"orient": "bottom", "offset": -46, "title": null, "ticks": false, "domain": true, "domainColor": "#999", "domainDash": [2, 2], "labelAngle": -30, "labelAlign": "right", "labelBaseline": "middle", "labelFontSize": 8, "labelPadding": 4, "labelColor": "#333"}},
            "y": {"field": "size", "type": "quantitative", "scale": {"domain": [0, 2.05], "range": [233, 154], "nice": false}, "axis": {"orient": "left", "offset": -39, "values": [0, 1, 2], "format": "d", "tickSize": 2, "domain": true, "domainColor": "#999", "labelFontSize": 7.5, "labelColor": "#333", "title": "Average pore size (nm)", "titleFontSize": 8, "titlePadding": 3, "titleColor": "#333"}}
          }
        }
      ],
      "resolve": {"scale": {"x": "independent", "y": "independent"}, "axis": {"x": "independent", "y": "independent"}}
    },
    {"width": 61, "height": 5, "data": {"values": []}, "mark": "text", "view": {"stroke": null}},
    {
      "width": 294, "height": 279,
      "title": {"text": "f", "dx": -23, "dy": 1},
      "data": {"name": "props"},
      "layer": [
        {
          "layer": [
            {
              "layer": [
                {"transform": [{"filter": "datum.k == 'R'"}], "mark": {"type": "line", "color": "#b5d6ad", "strokeWidth": 1, "strokeDash": [4, 2]}, "encoding": {"x": {"field": "i", "type": "quantitative", "scale": {"domain": [-0.5, 4.5], "nice": false}}, "y": {"field": "v", "type": "quantitative", "scale": {"domain": [1.3, 2.4], "range": [93, 0], "nice": false, "zero": false}, "axis": {"orient": "left", "values": [1.6, 2.0, 2.4], "format": ".1f", "title": "R", "titlePadding": 6}}}},
                {"transform": [{"filter": "datum.k == 'R'"}], "mark": {"type": "point", "shape": "circle", "filled": false, "fill": "white", "size": 42, "strokeWidth": 1.3}, "encoding": {"x": {"field": "i", "type": "quantitative"}, "y": {"field": "v", "type": "quantitative"}, "color": {"field": "k", "type": "nominal", "scale": {"domain": ["R"], "range": ["#6cbf5e"]}, "legend": {"title": null, "legendX": 7, "legendY": 5, "clipHeight": 11, "symbolType": "M-1,0H-0.25M0.25,0H1M-0.25,0A0.25,0.25 0 1,0 0.25,0A0.25,0.25 0 1,0 -0.25,0", "symbolSize": 1024, "labelFontSize": 13.5, "symbolStrokeWidth": 1.2}}}},
                {"data": {"values": [{"i": 0.95, "v": 2.108, "i2": 1.4}]}, "mark": {"type": "rule", "color": "#6cbf5e", "strokeWidth": 2}, "encoding": {"x": {"field": "i", "type": "quantitative"}, "x2": {"field": "i2"}, "y": {"field": "v", "type": "quantitative"}}},
                {"data": {"values": [{"i": 0.9, "v": 2.108}]}, "mark": {"type": "point", "shape": "triangle-left", "filled": true, "color": "#6cbf5e", "size": 45}, "encoding": {"x": {"field": "i", "type": "quantitative"}, "y": {"field": "v", "type": "quantitative"}}}
              ]
            },
            {
              "layer": [
                {"transform": [{"filter": "datum.k == 'La'"}], "mark": {"type": "line", "color": "#a9b9d6", "strokeWidth": 1, "strokeDash": [4, 2]}, "encoding": {"x": {"field": "i", "type": "quantitative"}, "y": {"field": "v", "type": "quantitative", "scale": {"domain": [2.5, 4.5], "range": [93, 0], "nice": false, "zero": false}, "axis": {"orient": "right", "values": [2.5, 3, 3.5, 4, 4.5], "format": ".1f", "title": "La (nm)", "titlePadding": 5}}}},
                {"transform": [{"filter": "datum.k == 'La'"}], "mark": {"type": "point", "shape": "triangle-up", "filled": false, "fill": "white", "size": 45, "strokeWidth": 1.3}, "encoding": {"x": {"field": "i", "type": "quantitative"}, "y": {"field": "v", "type": "quantitative"}, "stroke": {"field": "k", "type": "nominal", "scale": {"domain": ["La"], "range": ["#4472c4"]}, "legend": {"title": null, "legendX": 7, "legendY": 18, "clipHeight": 11, "symbolType": "M-1,0H-0.28M0.28,0H1M0,-0.3L0.27,0.18L-0.27,0.18Z", "symbolSize": 1024, "labelFontSize": 13.5, "symbolStrokeWidth": 1.2}}}},
                {"data": {"values": [{"i": 3.48, "v": 3.805, "i2": 3.8}]}, "mark": {"type": "rule", "color": "#4472c4", "strokeWidth": 2}, "encoding": {"x": {"field": "i", "type": "quantitative"}, "x2": {"field": "i2"}, "y": {"field": "v", "type": "quantitative"}}},
                {"data": {"values": [{"i": 3.85, "v": 3.805}]}, "mark": {"type": "point", "shape": "triangle-right", "filled": true, "color": "#4472c4", "size": 45}, "encoding": {"x": {"field": "i", "type": "quantitative"}, "y": {"field": "v", "type": "quantitative"}}}
              ]
            }
          ],
          "resolve": {"scale": {"y": "independent"}, "axis": {"y": "independent"}}
        },
        {
          "layer": [
            {"data": {"values": [{"v": 2.947}]}, "mark": {"type": "rule", "color": "#555"}, "encoding": {"y": {"field": "v", "type": "quantitative", "scale": {"domain": [2.346, 2.947], "range": [186, 93], "nice": false, "zero": false}, "axis": {"orient": "left", "values": [2.4, 2.6, 2.8], "format": ".1f", "title": "ID/IG", "titlePadding": 4}}}},
            {"transform": [{"filter": "datum.k == 'ID/IG'"}], "mark": {"type": "line", "color": "#e6b79a", "strokeWidth": 1}, "encoding": {"x": {"field": "i", "type": "quantitative"}, "y": {"field": "v", "type": "quantitative"}}},
            {"transform": [{"filter": "datum.k == 'ID/IG'"}], "mark": {"type": "point", "shape": "circle", "filled": false, "fill": "white", "size": 42, "strokeWidth": 1.3}, "encoding": {"x": {"field": "i", "type": "quantitative"}, "y": {"field": "v", "type": "quantitative"}, "color": {"field": "k", "type": "nominal", "scale": {"domain": ["ID/IG"], "range": ["#f08a3c"]}, "legend": {"title": null, "legendX": 203, "legendY": 100, "symbolType": "M-1,0H-0.4M0.4,0H1M-0.4,0A0.4,0.4 0 1,0 0.4,0A0.4,0.4 0 1,0 -0.4,0", "symbolSize": 484, "symbolStrokeWidth": 1.2, "labelFontSize": 13.5, "clipHeight": 11, "labelOffset": 1}}}}
          ]
        },
        {
          "layer": [
            {"data": {"values": [{"v": 1.11}]}, "mark": {"type": "rule", "color": "#555"}, "encoding": {"y": {"field": "v", "type": "quantitative", "scale": {"domain": [-0.05, 1.11], "range": [279, 186], "nice": false, "zero": false}, "axis": {"orient": "left", "values": [0, 0.4, 0.8], "format": ".1f", "title": "Pore volume (cm g⁻¹)", "titleFontSize": 11.5, "titlePadding": 4}}}},
            {"transform": [{"filter": "datum.k == 'Open pore volume' || datum.k == 'Total pore volume'"}], "mark": {"type": "line", "strokeWidth": 1, "opacity": 0.55}, "encoding": {"x": {"field": "i", "type": "quantitative", "axis": {"values": [0, 1, 2, 3, 4], "labelExpr": "['AC','FC-40min','FC-1h','FC-3h','FC-3h-1300'][datum.value]", "labelAngle": -15, "labelAlign": "center", "labelBaseline": "top", "labelPadding": 6, "title": null}}, "y": {"field": "v", "type": "quantitative"}, "color": {"field": "k", "type": "nominal", "sort": null, "scale": {"domain": ["Open pore volume", "Total pore volume"], "range": ["#3fc9d4", "#8a7cd8"]}}}},
            {"transform": [{"filter": "datum.k == 'Open pore volume' || datum.k == 'Total pore volume'"}], "mark": {"type": "point", "shape": "circle", "filled": false, "fill": "white", "size": 42, "strokeWidth": 1.3}, "encoding": {"x": {"field": "i", "type": "quantitative"}, "y": {"field": "v", "type": "quantitative"}, "color": {"field": "k", "type": "nominal", "sort": null, "legend": {"title": null, "legendX": 148, "legendY": 197, "symbolType": "M-1,0H-0.4M0.4,0H1M-0.4,0A0.4,0.4 0 1,0 0.4,0A0.4,0.4 0 1,0 -0.4,0", "symbolSize": 484, "symbolStrokeWidth": 1.2, "labelFontSize": 13, "clipHeight": 13, "rowPadding": 2.7}}}}
          ]
        }
      ],
      "resolve": {"scale": {"y": "independent", "color": "independent", "stroke": "independent"}, "axis": {"y": "independent"}, "legend": {"color": "independent", "stroke": "independent"}}
    }
  ]
}
